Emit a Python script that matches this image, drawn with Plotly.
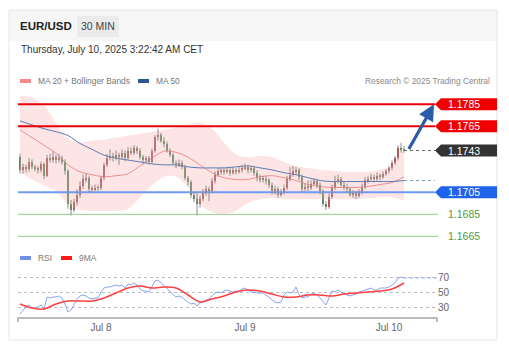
import plotly.graph_objects as go
import pandas as pd

W, H = 509, 351

# ---------------- data ----------------
times = pd.date_range("2025-07-07 10:30", periods=129, freq="30min")
first_open = 1.1737
close = [1.1725,1.1728,1.1726,1.1733,1.1728,1.1727,1.1725,1.1731,1.1720,1.1736,
         1.1734,1.1737,1.1734,1.1736,1.1733,1.1724,1.1694,1.1689,1.1696,1.1703,
         1.1711,1.1717,1.1718,1.1708,1.1708,1.1709,1.1709,1.1718,1.1730,1.1736,
         1.1738,1.1736,1.1739,1.1737,1.1741,1.1736,1.1743,1.1741,1.1745,1.1743,
         1.1737,1.1734,1.1736,1.1733,1.1743,1.1755,1.1757,1.1752,1.1749,1.1743,
         1.1739,1.1732,1.1730,1.1732,1.1728,1.1718,1.1714,1.1703,1.1699,1.1694,
         1.1699,1.1705,1.1708,1.1706,1.1715,1.1721,1.1724,1.1725,1.1724,1.1725,
         1.1723,1.1725,1.1724,1.1725,1.1727,1.1728,1.1725,1.1727,1.1723,1.1718,
         1.1717,1.1717,1.1716,1.1712,1.1706,1.1708,1.1703,1.1705,1.1709,1.1717,
         1.1721,1.1724,1.1725,1.1719,1.1708,1.1710,1.1709,1.1713,1.1715,1.1712,
         1.1706,1.1694,1.1692,1.1701,1.1709,1.1715,1.1717,1.1712,1.1710,1.1708,
         1.1703,1.1704,1.1702,1.1705,1.1710,1.1716,1.1717,1.1719,1.1717,1.1720,
         1.1719,1.1722,1.1724,1.1727,1.1732,1.1736,1.1745,1.1744,1.1743]
high = [1.1740,1.1731,1.1730,1.1736,1.1735,1.1730,1.1729,1.1733,1.1732,1.1739,
        1.1740,1.1742,1.1739,1.1740,1.1738,1.1735,1.1726,1.1698,1.1699,1.1708,
        1.1715,1.1721,1.1722,1.1720,1.1711,1.1712,1.1712,1.1720,1.1732,1.1740,
        1.1744,1.1741,1.1743,1.1741,1.1744,1.1743,1.1746,1.1746,1.1748,1.1747,
        1.1745,1.1739,1.1738,1.1738,1.1745,1.1757,1.1763,1.1759,1.1755,1.1751,
        1.1745,1.1741,1.1734,1.1735,1.1734,1.1730,1.1720,1.1716,1.1706,1.1704,
        1.1702,1.1708,1.1711,1.1710,1.1718,1.1724,1.1727,1.1728,1.1727,1.1728,
        1.1727,1.1728,1.1727,1.1728,1.1730,1.1731,1.1730,1.1729,1.1729,1.1725,
        1.1721,1.1720,1.1720,1.1718,1.1714,1.1711,1.1710,1.1708,1.1712,1.1720,
        1.1728,1.1729,1.1728,1.1727,1.1721,1.1713,1.1716,1.1716,1.1718,1.1717,
        1.1714,1.1708,1.1697,1.1704,1.1712,1.1720,1.1721,1.1719,1.1715,1.1713,
        1.1710,1.1707,1.1706,1.1708,1.1713,1.1719,1.1720,1.1722,1.1721,1.1723,
        1.1722,1.1724,1.1726,1.1729,1.1734,1.1738,1.1748,1.1750,1.1747]
low = [1.1722,1.1722,1.1723,1.1724,1.1726,1.1724,1.1722,1.1723,1.1717,1.1719,
       1.1732,1.1732,1.1731,1.1732,1.1730,1.1721,1.1690,1.1684,1.1687,1.1693,
       1.1700,1.1708,1.1714,1.1705,1.1705,1.1706,1.1706,1.1707,1.1716,1.1728,
       1.1734,1.1733,1.1734,1.1730,1.1735,1.1733,1.1734,1.1739,1.1739,1.1740,
       1.1735,1.1731,1.1732,1.1730,1.1731,1.1741,1.1752,1.1750,1.1746,1.1741,
       1.1737,1.1730,1.1727,1.1728,1.1726,1.1716,1.1711,1.1700,1.1696,1.1684,
       1.1691,1.1697,1.1702,1.1697,1.1704,1.1713,1.1719,1.1721,1.1721,1.1722,
       1.1720,1.1721,1.1721,1.1722,1.1723,1.1725,1.1722,1.1723,1.1720,1.1715,
       1.1714,1.1714,1.1712,1.1709,1.1703,1.1703,1.1700,1.1701,1.1703,1.1707,
       1.1715,1.1719,1.1721,1.1716,1.1705,1.1706,1.1706,1.1707,1.1711,1.1709,
       1.1703,1.1692,1.1689,1.1690,1.1699,1.1707,1.1713,1.1710,1.1707,1.1705,
       1.1701,1.1700,1.1699,1.1700,1.1703,1.1708,1.1713,1.1715,1.1714,1.1715,
       1.1716,1.1717,1.1720,1.1722,1.1725,1.1730,1.1734,1.1741,1.1741]
opens = [first_open] + close[:-1]

# indicators sampled every 2 hours (every 4th candle)
ind_times = times[::4]
ma20 = [1.17619,1.17548,1.17477,1.17405,1.17299,1.17237,1.17210,1.17192,1.17201,1.17219,
        1.17290,1.17361,1.17423,1.17414,1.17370,1.17299,1.17228,1.17183,1.17166,1.17166,
        1.17192,1.17201,1.17183,1.17157,1.17121,1.17103,1.17094,1.17094,1.17094,1.17103,
        1.17121,1.17139,1.17192]
ma50 = [1.17699,1.17663,1.17628,1.17601,1.17566,1.17494,1.17441,1.17388,1.17361,1.17343,
        1.17326,1.17308,1.17299,1.17299,1.17281,1.17272,1.17272,1.17272,1.17281,1.17290,
        1.17272,1.17254,1.17228,1.17210,1.17183,1.17157,1.17148,1.17148,1.17148,1.17148,
        1.17148,1.17148,1.17157]
bb_upper = [1.17930,1.17912,1.17841,1.17681,1.17539,1.17503,1.17521,1.17530,1.17548,1.17566,
            1.17583,1.17601,1.17619,1.17637,1.17663,1.17681,1.17628,1.17503,1.17397,1.17370,
            1.17379,1.17370,1.17326,1.17290,1.17272,1.17254,1.17245,1.17237,1.17237,1.17237,
            1.17254,1.17299,1.17459]
bb_lower = [1.17237,1.17166,1.17112,1.17059,1.16943,1.16890,1.16881,1.16881,1.16881,1.16899,
            1.17005,1.17112,1.17192,1.17192,1.17094,1.16934,1.16872,1.16854,1.16881,1.16952,
            1.16988,1.16997,1.16988,1.16988,1.16988,1.16988,1.16988,1.16988,1.16988,1.16997,
            1.17005,1.17005,1.16970]

rsi = [20.7,26.0,30.0,32.7,28.7,28.7,30.0,32.7,27.3,43.3,
       42.0,43.3,43.3,44.7,42.0,34.0,23.3,26.0,32.7,40.7,
       44.7,46.0,44.7,42.0,40.7,42.0,42.0,50.0,55.3,56.7,
       56.7,58.0,59.3,58.0,59.3,55.3,60.7,59.3,62.0,59.3,
       54.0,51.3,51.3,50.0,58.0,64.7,66.0,62.0,58.0,54.0,
       51.3,46.0,43.3,44.7,43.3,39.3,36.7,34.0,35.3,31.3,
       35.3,36.7,39.3,40.7,44.7,48.7,50.0,48.7,51.3,52.7,
       51.3,50.0,51.3,51.3,54.0,55.3,52.7,50.0,50.0,48.7,
       48.7,48.7,46.0,43.3,39.3,36.7,35.3,36.7,46.0,50.0,
       48.7,50.0,56.7,46.0,42.0,43.3,43.3,47.3,48.7,46.0,
       42.0,36.7,32.7,42.0,51.3,50.0,52.7,50.0,47.3,46.0,
       44.7,46.0,47.3,50.0,51.3,52.7,54.0,55.3,52.7,52.7,
       55.3,55.3,55.3,56.7,59.3,62.0,68.7,70.0,68.7]
rsi_ma9 = [34.0,28.7,27.3,34.0,38.0,38.0,38.0,42.0,48.7,55.3,
           58.0,55.3,56.7,55.3,46.0,36.7,40.7,44.7,50.0,52.7,
           51.3,47.3,43.3,43.3,46.0,46.0,44.7,47.3,48.7,50.0,
           51.3,54.0,62.0]

levels_red = [1.1785, 1.1765]
level_last = 1.1743
level_blue = 1.1705
levels_green = [1.1685, 1.1665]
rsi_ticks = [30, 50, 70]
day_ticks = ["2025-07-08", "2025-07-09", "2025-07-10"]
day_labels = ["Jul 8", "Jul 9", "Jul 10"]

# ---------------- helpers ----------------
def px(x):
    return x / W

def py(y):
    return 1 - y / H

FONT = "Liberation Sans, Arial, sans-serif"
X_START = "2025-07-07 10:10"
X_LINE_END = "2025-07-10 07:40"
X_GREEN_END = "2025-07-10 08:10"
X_LABEL = "2025-07-10 09:30"

fig = go.Figure()

# Bollinger band fill
fig.add_trace(go.Scatter(x=ind_times, y=bb_upper, mode="lines", line=dict(width=0, shape="spline"),
                         hoverinfo="skip", xaxis="x", yaxis="y"))
fig.add_trace(go.Scatter(x=ind_times, y=bb_lower, mode="lines", line=dict(width=0, shape="spline"),
                         fill="tonexty", fillcolor="rgba(252,190,190,0.4)", hoverinfo="skip",
                         xaxis="x", yaxis="y"))
# MA lines
fig.add_trace(go.Scatter(x=ind_times, y=ma20, mode="lines",
                         line=dict(color="#f29090", width=1, shape="spline"), xaxis="x", yaxis="y"))
fig.add_trace(go.Scatter(x=ind_times, y=ma50, mode="lines",
                         line=dict(color="#5b7db5", width=1, shape="spline"), xaxis="x", yaxis="y"))
fig.add_trace(go.Scatter(x=[ind_times[-1], pd.Timestamp(X_LINE_END)], y=[ma50[-1], ma50[-1]], mode="lines",
                         line=dict(color="#7f97c4", width=1, dash="dot"), xaxis="x", yaxis="y"))

# level lines
for lv in levels_red:
    fig.add_trace(go.Scatter(x=[X_START, X_LINE_END], y=[lv, lv], mode="lines",
                             line=dict(color="#e8000b", width=2), xaxis="x", yaxis="y"))
fig.add_trace(go.Scatter(x=[X_START, X_LINE_END], y=[level_blue, level_blue], mode="lines",
                         line=dict(color="#6f9af4", width=2), xaxis="x", yaxis="y"))
for lv in levels_green:
    fig.add_trace(go.Scatter(x=[X_START, X_GREEN_END], y=[lv, lv], mode="lines",
                             line=dict(color="#8fcf8a", width=1), xaxis="x", yaxis="y"))
fig.add_trace(go.Scatter(x=[times[-1], pd.Timestamp(X_LINE_END)], y=[level_last, level_last], mode="lines",
                         line=dict(color="#666666", width=1, dash="dot"), xaxis="x", yaxis="y"))

# candle wicks
wx, wy = [], []
for t, h, l in zip(times, high, low):
    wx += [t, t, None]
    wy += [l, h, None]
fig.add_trace(go.Scatter(x=wx, y=wy, mode="lines", line=dict(color="#8c8c8c", width=1),
                         hoverinfo="skip", xaxis="x", yaxis="y"))
# candle bodies
base = [min(o, c) for o, c in zip(opens, close)]
body = [max(abs(c - o), 0.00004) for o, c in zip(opens, close)]
colors = ["#e0201c" if c >= o else "#2e8a2e" for o, c in zip(opens, close)]
fig.add_trace(go.Bar(x=times, y=body, base=base, width=1260000,
                     marker=dict(color=colors, line=dict(width=0)), xaxis="x", yaxis="y"))

# RSI panel
fig.add_trace(go.Scatter(x=times, y=rsi, mode="lines", line=dict(color="#8aa4f2", width=1),
                         xaxis="x2", yaxis="y2"))
fig.add_trace(go.Scatter(x=ind_times, y=rsi_ma9, mode="lines", line=dict(color="#ff4040", width=1.5, shape="spline"),
                         xaxis="x2", yaxis="y2"))
fig.add_trace(go.Scatter(x=[times[-1], pd.Timestamp("2025-07-10 08:00")], y=[rsi[-1], rsi[-1]], mode="lines",
                         line=dict(color="#8aa4f2", width=1, dash="dot"), xaxis="x2", yaxis="y2"))

shapes = []
annotations = []

# card + header
shapes.append(dict(type="rect", xref="paper", yref="paper", x0=px(9), x1=px(497), y0=py(41), y1=py(10),
                   fillcolor="#f6f6f6", line=dict(width=0), layer="below"))
shapes.append(dict(type="rect", xref="paper", yref="paper", x0=px(9), x1=px(497), y0=py(340), y1=py(10),
                   fillcolor="rgba(0,0,0,0)", line=dict(color="#e6e6e6", width=1), layer="below"))
shapes.append(dict(type="rect", xref="paper", yref="paper", x0=px(77), x1=px(119), y0=py(37), y1=py(16),
                   fillcolor="#ebebeb", line=dict(width=0)))
annotations.append(dict(text="<b>EUR/USD</b>", xref="paper", yref="paper", x=px(18), y=py(26),
                        xanchor="left", yanchor="middle", showarrow=False,
                        font=dict(family=FONT, size=11.5, color="#222222")))
annotations.append(dict(text="30 MIN", xref="paper", yref="paper", x=px(98), y=py(26),
                        xanchor="center", yanchor="middle", showarrow=False,
                        font=dict(family=FONT, size=10.5, color="#444444")))
annotations.append(dict(text="Thursday, July 10, 2025 3:22:42 AM CET", xref="paper", yref="paper",
                        x=px(19), y=py(50), xanchor="left", yanchor="middle", showarrow=False,
                        font=dict(family=FONT, size=10, color="#333333")))

# legends
def legend_item(x, y, color, label):
    shapes.append(dict(type="rect", xref="paper", yref="paper", x0=px(x), x1=px(x + 11),
                       y0=py(y + 2), y1=py(y - 2), fillcolor=color, line=dict(width=0)))
    annotations.append(dict(text=label, xref="paper", yref="paper", x=px(x + 16), y=py(y),
                            xanchor="left", yanchor="middle", showarrow=False,
                            font=dict(family=FONT, size=8.4, color="#777777")))

legend_item(20, 81, "#f78b8b", "MA 20 + Bollinger Bands")
legend_item(138, 81, "#2f5597", "MA 50")
legend_item(20, 258, "#6f8fe8", "RSI")
legend_item(61, 258, "#ff1a1a", "9MA")
annotations.append(dict(text="Research © 2025 Trading Central", xref="paper", yref="paper",
                        x=px(492), y=py(81), xanchor="right", yanchor="middle", showarrow=False,
                        font=dict(family=FONT, size=8.4, color="#888888")))

# price tags
def tag(level, fill, txt_color="#ffffff"):
    shapes.append(dict(type="path", xref="x", yref="y", xsizemode="pixel", ysizemode="pixel",
                       xanchor=X_LINE_END, yanchor=level,
                       path="M0,0 L6,6 L62,6 L62,-6 L6,-6 Z", fillcolor=fill, line=dict(width=0)))
    annotations.append(dict(text=f"{level:.4f}", xref="x", yref="y", x=X_LABEL, y=level,
                            xanchor="left", yanchor="middle", showarrow=False,
                            font=dict(family=FONT, size=10.5, color=txt_color)))

for lv in levels_red:
    tag(lv, "#f00000")
tag(level_last, "#333333")
tag(level_blue, "#1f63ea")
for lv in levels_green:
    annotations.append(dict(text=f"{lv:.4f}", xref="x", yref="y", x=X_LABEL, y=lv,
                            xanchor="left", yanchor="middle", showarrow=False,
                            font=dict(family=FONT, size=10.5, color="#4f9a3c")))

# forecast arrow
annotations.append(dict(text="", xref="x", yref="y", axref="x", ayref="y",
                        x="2025-07-10 07:30", y=levels_red[0],
                        ax="2025-07-10 03:10", ay=level_last,
                        showarrow=True, arrowhead=2, arrowsize=1, arrowwidth=3.2,
                        arrowcolor="#2b5ca6", standoff=0))

# RSI axis end ticks
for xx in (18, 437):
    shapes.append(dict(type="line", xref="paper", yref="paper", x0=px(xx), x1=px(xx),
                       y0=py(317.3), y1=py(322), line=dict(color="#bbbbbb", width=2)))

fig.update_layout(
    width=W, height=H,
    margin=dict(l=0, r=0, t=0, b=0),
    paper_bgcolor="white", plot_bgcolor="rgba(0,0,0,0)",
    showlegend=False,
    bargap=0,
    shapes=shapes, annotations=annotations,
    xaxis=dict(domain=[px(14), px(498)], range=["2025-07-07 09:30", "2025-07-10 18:10"],
               visible=False, anchor="y"),
    yaxis=dict(domain=[py(245), py(90)], range=[1.16571, 1.17980], visible=False, anchor="x"),
    xaxis2=dict(domain=[px(18), px(437)], range=[X_START, "2025-07-10 08:00"], anchor="y2",
                showline=True, linecolor="#bbbbbb", linewidth=2, showgrid=False, zeroline=False,
                tickvals=day_ticks, ticktext=day_labels, ticks="",
                tickfont=dict(family=FONT, size=10, color="#666666")),
    yaxis2=dict(domain=[py(317.3), py(268)], range=[16.27, 82], anchor="x2", side="right",
                tickvals=rsi_ticks, showgrid=True, gridcolor="#bdbdbd", griddash="dot", gridwidth=1,
                zeroline=False, showline=False, ticks="",
                tickfont=dict(family=FONT, size=10, color="#666666")),
)

fig.write_html("out.html")
